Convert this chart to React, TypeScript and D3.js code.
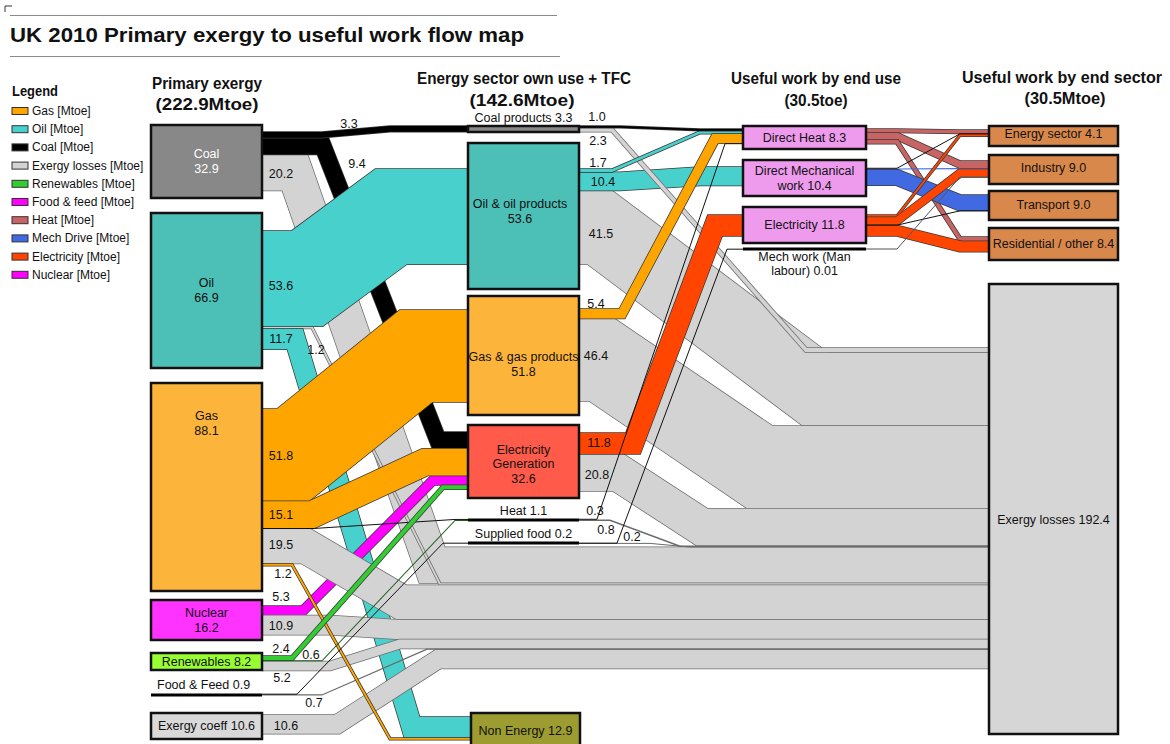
import React from 'react';
import * as d3 from 'd3';

// ---------------- DATA ----------------
const columnTitles = ['Primary exergy', 'Energy sector own use + TFC', 'Useful work by end use', 'Useful work by end sector'];
const columnTotals = ['(222.9Mtoe)', '(142.6Mtoe)', '(30.5toe)', '(30.5Mtoe)'];

// [id, name, value]
const primaryNodes: [string, string, number][] = [
  ['coal', 'Coal', 32.9], ['oil', 'Oil', 66.9], ['gas', 'Gas', 88.1], ['nuclear', 'Nuclear', 16.2],
  ['renew', 'Renewables', 8.2], ['food', 'Food & Feed', 0.9], ['xcoef', 'Exergy coeff', 10.6],
];
const sectorNodes: [string, string, number][] = [
  ['coalprod', 'Coal products', 3.3], ['oilprod', 'Oil & oil products', 53.6], ['gasprod', 'Gas & gas products', 51.8],
  ['elecgen', 'Electricity Generation', 32.6], ['heat', 'Heat', 1.1], ['sfood', 'Supplied food', 0.2], ['nonen', 'Non Energy', 12.9],
];
const endUseNodes: [string, string, number][] = [
  ['dheat', 'Direct Heat', 8.3], ['dmech', 'Direct Mechanical work', 10.4], ['delec', 'Electricity', 11.8], ['mwork', 'Mech work (Man labour)', 0.01],
];
const endSectorNodes: [string, string, number][] = [
  ['es', 'Energy sector', 4.1], ['ind', 'Industry', 9.0], ['trans', 'Transport', 9.0], ['res', 'Residential / other', 8.4], ['loss', 'Exergy losses', 192.4],
];

const legendLabels = ['Gas [Mtoe]', 'Oil [Mtoe]', 'Coal [Mtoe]', 'Exergy losses [Mtoe]', 'Renewables [Mtoe]', 'Food & feed [Mtoe]', 'Heat [Mtoe]', 'Mech Drive [Mtoe]', 'Electricity [Mtoe]', 'Nuclear [Mtoe]'];
const legendKinds = ['gas', 'oil', 'coal', 'loss', 'renew', 'food', 'heat', 'mech', 'elec', 'nuclear'];

// [id, source, target, value, kind]
const flows: [string, string, string, number, string][] = [
  ['c_cp', 'coal', 'coalprod', 3.3, 'coal'],
  ['c_eg', 'coal', 'elecgen', 9.4, 'coal'],
  ['c_l', 'coal', 'loss', 20.2, 'loss'],
  ['o_op', 'oil', 'oilprod', 53.6, 'oil'],
  ['o_l', 'oil', 'loss', 1.2, 'loss'],
  ['o_ne', 'oil', 'nonen', 11.7, 'oil'],
  ['g_gp', 'gas', 'gasprod', 51.8, 'gas'],
  ['g_eg', 'gas', 'elecgen', 15.1, 'gas'],
  ['g_h', 'gas', 'heat', 0.5, 'line'],
  ['g_l', 'gas', 'loss', 19.5, 'loss'],
  ['g_ne', 'gas', 'nonen', 1.2, 'gas'],
  ['n_eg', 'nuclear', 'elecgen', 5.3, 'nuclear'],
  ['n_l', 'nuclear', 'loss', 10.9, 'loss'],
  ['r_eg', 'renew', 'elecgen', 2.4, 'renew'],
  ['r_h', 'renew', 'heat', 0.6, 'dgreen'],
  ['r_l', 'renew', 'loss', 5.2, 'loss'],
  ['f_sf', 'food', 'sfood', 0.2, 'line'],
  ['f_l', 'food', 'loss', 0.7, 'loss'],
  ['x_l', 'xcoef', 'loss', 10.6, 'loss'],
  ['cp_dh', 'coalprod', 'dheat', 1.0, 'coal'],
  ['cp_l', 'coalprod', 'loss', 2.3, 'loss'],
  ['op_dh', 'oilprod', 'dheat', 1.7, 'oil'],
  ['op_dm', 'oilprod', 'dmech', 10.4, 'oil'],
  ['op_l', 'oilprod', 'loss', 41.5, 'loss'],
  ['gp_dh', 'gasprod', 'dheat', 5.4, 'gas'],
  ['gp_l', 'gasprod', 'loss', 46.4, 'loss'],
  ['eg_el', 'elecgen', 'delec', 11.8, 'elec'],
  ['eg_l', 'elecgen', 'loss', 20.8, 'loss'],
  ['h_dh', 'heat', 'dheat', 0.3, 'line'],
  ['h_l', 'heat', 'loss', 0.8, 'loss'],
  ['sf_mw', 'sfood', 'mwork', 0.2, 'line'],
  ['sf_l', 'sfood', 'loss', 0.05, 'loss'],
  ['dh_es', 'dheat', 'es', 2.0, 'heat'],
  ['dh_in', 'dheat', 'ind', 4.0, 'heat'],
  ['dh_re', 'dheat', 'res', 2.3, 'heat'],
  ['dm_es', 'dmech', 'es', 0.3, 'line'],
  ['dm_in', 'dmech', 'ind', 0.6, 'mech'],
  ['dm_tr', 'dmech', 'trans', 8.8, 'mech'],
  ['el_es', 'delec', 'es', 1.2, 'elec'],
  ['el_in', 'delec', 'ind', 4.4, 'elec'],
  ['el_tr', 'delec', 'trans', 0.2, 'line'],
  ['el_re', 'delec', 'res', 6.0, 'elec'],
  ['mw_in', 'mwork', 'ind', 0.01, 'thin'],
];

// labelled flow values shown on the map
const labelledFlows = ['c_cp', 'c_eg', 'c_l', 'o_op', 'o_l', 'o_ne', 'g_gp', 'g_eg', 'g_l', 'g_ne', 'n_eg', 'n_l', 'r_eg', 'r_h', 'r_l', 'f_l', 'x_l',
  'cp_dh', 'cp_l', 'op_dh', 'op_dm', 'op_l', 'gp_dh', 'gp_l', 'eg_el', 'eg_l', 'h_dh', 'h_l', 'sf_mw'];

// ---------------- LAYOUT ----------------
type NL = { x0: number; x1: number; y0: number; y1: number; sp?: number; tp?: number; fill?: string; text?: string; lines: string; cx?: number; cy?: number; anchor?: string; isLine?: boolean; lh?: number };
const NODE_LAYOUT: Record<string, NL> = {
  coal: { x0: 151, x1: 262, y0: 125, y1: 198, sp: 7, fill: '#888888', text: '#ffffff', lines: 'Coal|{v}' },
  oil: { x0: 151, x1: 262, y0: 213, y1: 368, sp: 18, fill: '#4cbfb6', lines: 'Oil|{v}' },
  gas: { x0: 151, x1: 262, y0: 383, y1: 591, sp: 26, fill: '#fdb43a', lines: 'Gas|{v}', cy: 423 },
  nuclear: { x0: 151, x1: 262, y0: 600, y1: 640, sp: 6, fill: '#ff33ff', lines: 'Nuclear|{v}' },
  renew: { x0: 151, x1: 262, y0: 653, y1: 670, sp: 3, fill: '#99ff33', lines: 'Renewables {v}' },
  food: { x0: 151, x1: 262, y0: 695, y1: 695, sp: -1, isLine: true, lines: 'Food & Feed {v}', cx: 157, cy: 685, anchor: 'start' },
  xcoef: { x0: 151, x1: 262, y0: 713, y1: 739, sp: 2, fill: '#d9d9d9', lines: 'Exergy coeff {v}' },
  coalprod: { x0: 468, x1: 579, y0: 126, y1: 132, sp: 0, tp: 0, fill: '#888888', lines: 'Coal products {v}', cy: 118 },
  oilprod: { x0: 468, x1: 579, y0: 143, y1: 289, sp: 26, tp: 26, fill: '#4cbfb6', lines: 'Oil & oil products|{v}', cx: 520, cy: 211 },
  gasprod: { x0: 468, x1: 579, y0: 296, y1: 415, sp: 13, tp: 14, fill: '#fdb43a', lines: 'Gas & gas products|{v}', cy: 364 },
  elecgen: { x0: 468, x1: 579, y0: 425, y1: 498, sp: 8, tp: 7, fill: '#ff5a4a', lines: 'Electricity|Generation|{v}', cy: 464, lh: 14.5 },
  heat: { x0: 468, x1: 579, y0: 520, y1: 520, sp: -1, tp: -1, isLine: true, lines: 'Heat {v}', cy: 511 },
  sfood: { x0: 468, x1: 579, y0: 543, y1: 543, sp: 0, tp: 0, isLine: true, lines: 'Supplied food {v}', cy: 534 },
  nonen: { x0: 471, x1: 580, y0: 713, y1: 752, tp: 4, fill: '#9c9c30', lines: 'Non Energy {v}', cy: 731 },
  dheat: { x0: 743, x1: 866, y0: 126, y1: 149, sp: 3, tp: 3, fill: '#ee9bee', lines: 'Direct Heat {v}' },
  dmech: { x0: 743, x1: 866, y0: 160, y1: 196, sp: 8, tp: 7, fill: '#ee9bee', lines: 'Direct Mechanical|work {v}' },
  delec: { x0: 743, x1: 866, y0: 207, y1: 243, sp: 8, tp: 8, fill: '#ee9bee', lines: 'Electricity {v}' },
  mwork: { x0: 743, x1: 866, y0: 249, y1: 249, sp: 0, tp: 0, isLine: true, lines: 'Mech work (Man|labour) {v}', cy: 264, lh: 14 },
  es: { x0: 989, x1: 1118, y0: 126, y1: 146, tp: 4, fill: '#d9884b', lines: 'Energy sector {v}', cy: 134 },
  ind: { x0: 989, x1: 1118, y0: 155, y1: 184, tp: 6, fill: '#d9884b', lines: 'Industry {v}', cy: 168 },
  trans: { x0: 989, x1: 1118, y0: 191, y1: 220, tp: 4, fill: '#d9884b', lines: 'Transport {v}', cy: 205 },
  res: { x0: 989, x1: 1118, y0: 228, y1: 260, tp: 9, fill: '#d9884b', lines: 'Residential / other {v}', cy: 244 },
  loss: { x0: 989, x1: 1118, y0: 284, y1: 734, tp: 64, fill: '#d6d6d6', lines: 'Exergy losses {v}', cy: 520 },
};

// custom stacking order at targets
const TARGET_ORDER: Record<string, string[]> = {
  loss: ['cp_l', 'op_l', 'gp_l', 'eg_l', 'h_l', 'sf_l', 'c_l', 'o_l', 'g_l', 'n_l', 'r_l', 'f_l', 'x_l'],
};

// bend points of each flow's centre line: y 's' = source level, 't' = target level
type R = [number, number | 's' | 't'][];
const CD: R = [[897, 's'], [960, 't']];
const ROUTES: Record<string, R> = {
  c_cp: [[322, 's'], [390, 't']], c_eg: [[323, 's'], [438, 't']], c_l: [[295, 's'], [432, 't']],
  o_op: [[307, 's'], [391, 't']], o_l: [[312, 's'], [440, 't']], o_ne: [[295, 's'], [412, 't']],
  g_gp: [[293, 's'], [416, 't']], g_eg: [[312, 's'], [425, 't']], g_h: [[313, 's'], [455, 't']],
  g_l: [[306, 's'], [402, 't']], g_ne: [[292, 's'], [390, 't']],
  n_eg: [[303, 's'], [433, 't']], n_l: [[330, 's'], [400, 't']],
  r_eg: [[292, 's'], [443, 't']], r_h: [[322, 's'], [455, 't']], r_l: [[330, 's'], [400, 't']],
  f_sf: [[297, 's'], [443, 't']], f_l: [[322, 's'], [427, 't']], x_l: [[337, 's'], [438, 't']],
  cp_dh: [[620, 's'], [700, 't']], cp_l: [[612, 's'], [806, 't']],
  op_dh: [[612, 's'], [700, 't']], op_dm: [[620, 's'], [700, 't']], op_l: [[600, 's'], [815, 't']],
  gp_dh: [[622, 's'], [715, 't']], gp_l: [[602, 's'], [760, 't']],
  eg_el: [[633, 's'], [715, 't']], eg_l: [[618, 's'], [702, 't']],
  h_dh: [[597, 's'], [725, 't']], h_l: [[610, 's'], [680, 't']],
  sf_mw: [[617, 's'], [727, 't']], sf_l: [[650, 's'], [690, 't']],
  dh_es: CD, dh_in: CD, dh_re: CD, dm_es: CD, dm_in: CD, dm_tr: CD,
  el_es: CD, el_in: CD, el_tr: CD, el_re: CD, mw_in: CD,
};

const DRAW_ORDER = ['c_l', 'c_eg', 'c_cp', 'o_l', 'o_ne', 'o_op', 'n_eg',
  'op_l', 'gp_l', 'eg_l', 'h_l', 'sf_l', 'g_l', 'n_l', 'r_l', 'f_l', 'x_l',
  'g_gp', 'g_eg', 'g_h', 'g_ne', 'r_eg', 'r_h', 'f_sf',
  'op_dm', 'cp_l', 'op_dh', 'cp_dh', 'gp_dh', 'eg_el', 'h_dh', 'sf_mw',
  'dh_es', 'dh_in', 'dh_re', 'dm_in', 'dm_tr', 'el_es', 'el_in', 'el_re', 'el_tr', 'dm_es', 'mw_in'];

// label offsets relative to (source right edge, source centre)
const LABEL_OFF: Record<string, [number, number]> = {
  c_cp: [87, -11], c_eg: [95, 18], c_l: [19, 1], o_op: [19, 7], o_l: [54, 23], o_ne: [19, 0],
  g_gp: [19, 1], g_eg: [19, 0], g_l: [19, -1], g_ne: [21, 9], n_eg: [19, -14], n_l: [19, 1],
  r_eg: [19, -9], r_h: [49, -6], r_l: [20, 12], f_l: [52, 8], x_l: [24, 2],
  cp_dh: [18, -10], cp_l: [19, 11], op_dh: [19, -8], op_dm: [24, 1], op_l: [22, 7],
  gp_dh: [17, -10], gp_l: [17, -4], eg_el: [20, -1], eg_l: [18, 2], h_dh: [16, -8], h_l: [27, 10], sf_mw: [53, -6],
};

const COLORS: Record<string, string> = {
  coal: '#000000', oil: '#48d1cc', gas: '#ffa500', loss: '#d3d3d3', renew: '#33cc33', nuclear: '#ff00ff',
  food: '#ff00ff', heat: '#c86464', mech: '#4169e1', elec: '#ff4500', line: '#111111', dgreen: '#1d5e1d', thin: '#555555',
};

const FONT = 'Liberation Sans, Arial, Helvetica, sans-serif';
const fmt = (v: number) => (v < 0.1 ? v.toFixed(2) : v.toFixed(1));

// flow width scale (px per Mtoe)
const widthScale = d3.scaleLinear().domain([0, 100]).range([0, 178]);

export default function App() {
  const allNodes = [...primaryNodes, ...sectorNodes, ...endUseNodes, ...endSectorNodes];

  // stacking
  const sy: Record<string, number> = {};
  const ty: Record<string, number> = {};
  const srcAcc: Record<string, number> = {};
  flows.forEach(([id, s, , v]) => {
    const L = NODE_LAYOUT[s];
    if (srcAcc[s] === undefined) srcAcc[s] = L.y0 + (L.sp || 0);
    const w = widthScale(v);
    sy[id] = srcAcc[s] + w / 2;
    srcAcc[s] += w;
  });
  const byTarget: Record<string, string[]> = {};
  flows.forEach(([id, , t]) => { (byTarget[t] = byTarget[t] || []).push(id); });
  const flowById: Record<string, [string, string, string, number, string]> = {};
  flows.forEach(f => { flowById[f[0]] = f; });
  Object.keys(byTarget).forEach(t => {
    const order = TARGET_ORDER[t] || byTarget[t];
    const L = NODE_LAYOUT[t];
    let acc = L.y0 + (L.tp || 0);
    order.forEach(id => {
      const w = widthScale(flowById[id][3]);
      ty[id] = acc + w / 2;
      acc += w;
    });
  });

  const lineGen = d3.line<[number, number]>().x(d => d[0]).y(d => d[1]);

  const flowPaths = DRAW_ORDER.map(id => {
    const [, s, t, v, kind] = flowById[id];
    const S = NODE_LAYOUT[s], T = NODE_LAYOUT[t];
    const pts: [number, number][] = [[S.x1, sy[id]]];
    (ROUTES[id] || []).forEach(([x, y]) => {
      pts.push([x, y === 's' ? sy[id] : y === 't' ? ty[id] : (y as number)]);
    });
    pts.push([T.x0, ty[id]]);
    const d = lineGen(pts) || '';
    const w = widthScale(v);
    const color = COLORS[kind];
    if (w < 1.6) {
      const c = kind === 'loss' ? '#6a6a6a' : kind === 'gas' ? '#b07000' : color;
      return (
        <path key={id} d={d} fill="none" stroke={c} strokeWidth={Math.max(w, 1)} strokeLinejoin="miter" />
      );
    }
    const outline = kind === 'loss' ? '#6e6e6e' : '#3a3a3a';
    return (
      <g key={id}>
        <path d={d} fill="none" stroke={outline} strokeWidth={w + 1.3} strokeLinejoin="miter" strokeMiterlimit={8} />
        <path d={d} fill="none" stroke={color} strokeWidth={Math.max(w - 0.2, 0.5)} strokeLinejoin="miter" strokeMiterlimit={8} />
      </g>
    );
  });

  const flowLabels = labelledFlows.map(id => {
    const [, s, , v] = flowById[id];
    const S = NODE_LAYOUT[s];
    const [dx, dy] = LABEL_OFF[id];
    return (
      <text key={'l' + id} x={S.x1 + dx} y={sy[id] + dy} textAnchor="middle" dominantBaseline="central"
        fontSize={12.5} fill="#111">{fmt(v)}</text>
    );
  });

  const nodeEls = allNodes.map(([id, , v]) => {
    const L = NODE_LAYOUT[id];
    const lines = L.lines.replace('{v}', fmt(v)).split('|');
    const cx = L.cx ?? (L.x0 + L.x1) / 2;
    const cy = L.cy ?? (L.y0 + L.y1) / 2;
    const lh = L.lh ?? 15;
    return (
      <g key={id}>
        {L.isLine ? (
          <line x1={L.x0} x2={L.x1} y1={L.y0} y2={L.y0} stroke="#000" strokeWidth={3} />
        ) : (
          <rect x={L.x0} y={L.y0} width={L.x1 - L.x0} height={L.y1 - L.y0} fill={L.fill} stroke="#111" strokeWidth={2.5} />
        )}
        {lines.map((ln, i) => (
          <text key={i} x={cx} y={cy + (i - (lines.length - 1) / 2) * lh} textAnchor={(L.anchor as any) || 'middle'}
            dominantBaseline="central" fontSize={12.5} fill={L.text || '#111'}>{ln}</text>
        ))}
      </g>
    );
  });

  const headerPos: [number, number, number, number, number, number][] = [
    // cx1, y1, w1, cx2, y2, w2
    [207, 89, 110, 207, 110, 103],
    [524, 84, 214, 522, 106, 105],
    [816, 84, 170, 816, 106, 63],
    [1062, 83, 200, 1065, 104, 81],
  ];

  return (
    <svg width={1170} height={744} style={{ position: 'absolute', left: 0, top: 0, background: '#fff' }} fontFamily={FONT}>
      <rect x={0} y={0} width={1170} height={744} fill="#fff" />
      {/* title */}
      <path d="M5,12 V6 H12" fill="none" stroke="#333" strokeWidth={1} />
      <line x1={10} x2={557} y1={15.5} y2={15.5} stroke="#8a8a8a" strokeWidth={1} />
      <text x={10} y={42} fontSize={21} fontWeight="bold" fill="#111" textLength={514} lengthAdjust="spacingAndGlyphs">
        UK 2010 Primary exergy to useful work flow map
      </text>
      <line x1={10} x2={560} y1={56.5} y2={56.5} stroke="#8a8a8a" strokeWidth={1} />

      {/* legend */}
      <text x={12} y={96} fontSize={14.5} fontWeight="bold" fill="#111" textLength={46} lengthAdjust="spacingAndGlyphs">Legend</text>
      {legendLabels.map((lab, i) => {
        const y = 111 + i * 18.2;
        return (
          <g key={lab}>
            <rect x={12} y={y - 3.5} width={16} height={7} fill={COLORS[legendKinds[i]]} stroke="#333" strokeWidth={1} />
            <text x={32} y={y} dominantBaseline="central" fontSize={12} fill="#111">{lab}</text>
          </g>
        );
      })}

      {/* column headers */}
      {columnTitles.map((t, i) => {
        const [c1, y1, w1, c2, y2, w2] = headerPos[i];
        return (
          <g key={t}>
            <text x={c1} y={y1} textAnchor="middle" fontSize={16} fontWeight="bold" fill="#111" textLength={w1} lengthAdjust="spacingAndGlyphs">{t}</text>
            <text x={c2} y={y2} textAnchor="middle" fontSize={16} fontWeight="bold" fill="#111" textLength={w2} lengthAdjust="spacingAndGlyphs">{columnTotals[i]}</text>
          </g>
        );
      })}

      {flowPaths}
      {nodeEls}
      {flowLabels}
    </svg>
  );
}
